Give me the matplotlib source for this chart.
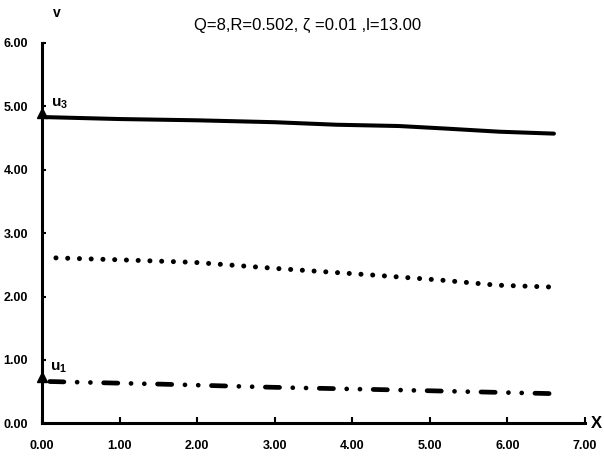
import matplotlib
matplotlib.use("Agg")
import matplotlib.pyplot as plt
from matplotlib import font_manager

# ---- data ----
x_u3 = [0.05, 1.0, 2.0, 3.0, 3.8, 4.6, 5.2, 5.9, 6.6]
u3 = [4.83, 4.80, 4.78, 4.75, 4.71, 4.69, 4.65, 4.60, 4.57]

x_mid = [0.18, 1.0, 1.96, 3.06, 4.26, 5.14, 5.86, 6.58]
u_mid = [2.61, 2.58, 2.54, 2.44, 2.34, 2.26, 2.18, 2.15]

x_u1 = [0.1, 1.5, 2.95, 4.46, 5.5, 6.55]
u1 = [0.66, 0.62, 0.57, 0.53, 0.50, 0.47]

x_ticks = [0, 1, 2, 3, 4, 5, 6, 7]
y_ticks = [0, 1, 2, 3, 4, 5, 6]
title = "Q=8,R=0.502, \u03b6 =0.01 ,l=13.00"

names = {f.name for f in font_manager.fontManager.ttflist}
narrow = "Liberation Sans Narrow" if "Liberation Sans Narrow" in names else "Liberation Sans"
plt.rcParams['font.family'] = [narrow, 'DejaVu Sans']

fig = plt.figure(figsize=(6.04, 4.72), dpi=100)
ax = fig.add_axes([0.0695, 0.103, 0.899, 0.806])
ax.set_xlim(0, 7)
ax.set_ylim(0, 6)

ax.plot(x_u3, u3, color='black', lw=2.9, solid_capstyle='round')
ax.plot(x_mid, u_mid, color='black', lw=3.6, linestyle=(0, (0.01, 2.34)),
        dash_capstyle='round')
ax.plot(x_u1, u1, color='black', lw=3.4,
        linestyle=(0, (3.0, 2.8, 0.01, 2.8, 0.01, 2.8)),
        dash_capstyle='round')

# arrow heads on the y axis at curve starts
ax.plot([0], [u3[0] + 0.07], marker='^', color='black', ms=7, clip_on=False)
ax.plot([0], [u1[0] + 0.07], marker='^', color='black', ms=7, clip_on=False)

ax.text(0.12, u3[0] + 0.1, r'$\mathregular{u_3}$', fontsize=11, fontweight='bold',
        ha='left', va='bottom')
ax.text(0.1, u1[0] + 0.1, r'$\mathregular{u_1}$', fontsize=11, fontweight='bold',
        ha='left', va='bottom')

for s in ['top', 'right']:
    ax.spines[s].set_visible(False)
for s in ['left', 'bottom']:
    ax.spines[s].set_linewidth(2.2)

ax.set_xticks(x_ticks)
ax.set_yticks(y_ticks)
ax.set_xticklabels([f"{v:.2f}" for v in x_ticks], fontsize=9, fontweight='bold')
ax.set_yticklabels([f"{v:.2f}" for v in y_ticks], fontsize=9, fontweight='bold')
ax.tick_params(axis='x', direction='in', length=4, width=1.5, pad=12)
ax.tick_params(axis='y', direction='in', length=3, width=1.5, pad=10)

ax.text(0.02, 1.06, 'v', transform=ax.transAxes, fontsize=10, fontweight='bold',
        ha='left', va='bottom')
ax.text(1.01, 0.0, 'X', transform=ax.transAxes, fontsize=12, fontweight='bold',
        ha='left', va='center')
fig.text(0.51, 0.947, title, fontsize=12, ha='center', va='center')

fig.savefig('out.png', dpi=100)
